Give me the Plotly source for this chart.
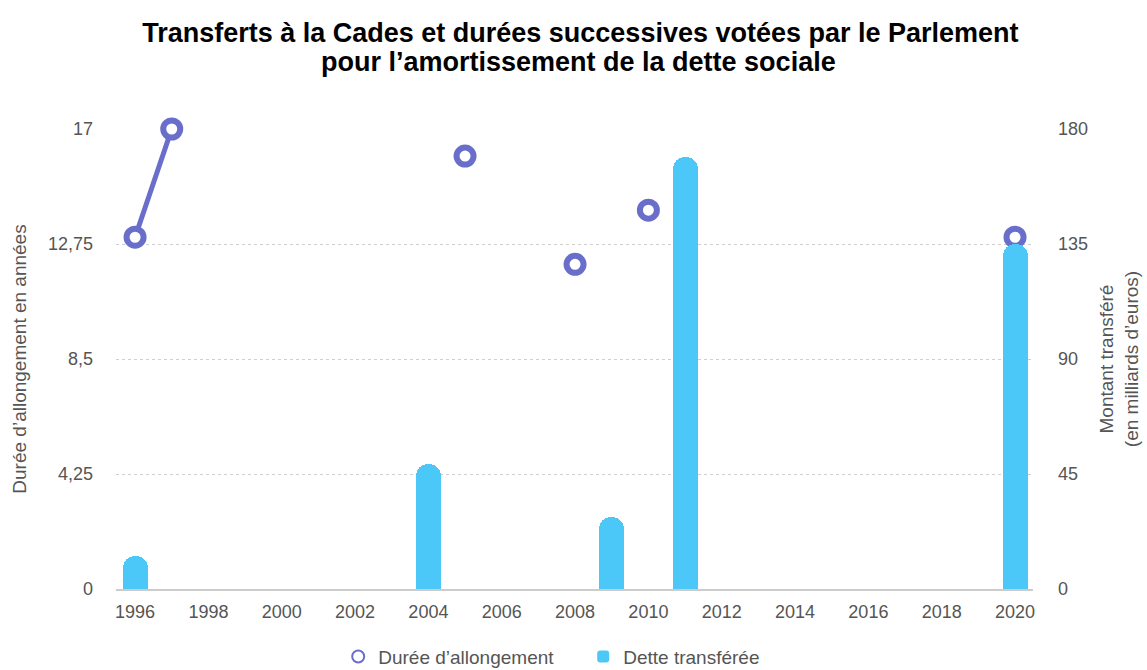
import plotly.graph_objects as go

# Data
years_bar = [1996, 2004, 2009, 2011, 2020]
dette = [13, 49, 28, 169, 135]

years_line = list(range(1996, 2021))
duree_map = {1996: 13, 1997: 17, 2005: 16, 2008: 12, 2010: 14, 2020: 13}
duree = [duree_map.get(y) for y in years_line]

left_ticks = [0, 4.25, 8.5, 12.75, 17]
left_ticktext = ["0", "4,25", "8,5", "12,75", "17"]
right_ticks = [0, 45, 90, 135, 180]
x_ticks = list(range(1996, 2021, 2))

title_line1 = "Transferts à la Cades et durées successives votées par le Parlement"
title_line2 = "pour l’amortissement de la dette sociale"

PURPLE = "#6a6ecb"
BLUE = "#4cc8f8"
GRAY = "#555555"
FONT = "Liberation Sans"

fig = go.Figure()

fig.add_trace(go.Bar(
    x=years_bar, y=dette, name="Dette transférée", yaxis="y2",
    width=0.68, marker=dict(color=BLUE, cornerradius="50%", line=dict(width=0)),
    legendrank=2,
))

fig.add_trace(go.Scatter(
    x=years_line, y=duree, mode="lines", connectgaps=False,
    line=dict(color=PURPLE, width=5), showlegend=False, cliponaxis=False,
    hoverinfo="skip",
))
fig.add_trace(go.Scatter(
    x=years_line, y=duree, mode="markers", name="Durée d’allongement",
    marker=dict(symbol="circle", size=17, color="white",
                line=dict(color=PURPLE, width=6)),
    cliponaxis=False, legendrank=1,
))

fig.update_layout(
    width=1147, height=670,
    paper_bgcolor="white", plot_bgcolor="white",
    margin=dict(l=116, r=114, t=129, b=81, autoexpand=False),
    font=dict(family=FONT, color=GRAY, size=16),
    title=dict(
        text="<b>" + title_line1 + "</b>",
        x=0.506, xanchor="center", y=1 - 33 / 670, yanchor="middle", yref="container",
        font=dict(family=FONT, size=27, color="black"),
    ),
    annotations=[dict(
        text="<b>" + title_line2 + "</b>", xref="paper", yref="paper",
        x=(578 - 116) / (1147 - 116 - 114), y=(589 - 62) / (589 - 129),
        xanchor="center", yanchor="middle", showarrow=False,
        font=dict(family=FONT, size=27, color="black"),
    )],
    xaxis=dict(
        range=[1995.48, 2020.49], tickvals=x_ticks, showgrid=False,
        showline=True, linecolor="#cccccc", linewidth=2,
        ticks="", ticklabelstandoff=5, zeroline=False,
        tickfont=dict(size=18, color=GRAY),
    ),
    yaxis=dict(
        range=[0, 17], tickvals=left_ticks, ticktext=left_ticktext,
        showgrid=True, gridcolor="#cfcfcf", griddash="dot", gridwidth=1,
        zeroline=False, ticks="", ticklabelstandoff=22,
        title=dict(text="Durée d’allongement en années", standoff=16,
                   font=dict(size=19, color=GRAY)),
        tickfont=dict(size=18, color=GRAY),
    ),
    yaxis2=dict(
        range=[0, 180], tickvals=right_ticks, overlaying="y", side="right",
        showgrid=False, zeroline=False, ticks="", ticklabelstandoff=24,
        title=dict(text="Montant transféré<br>(en milliards d’euros)", standoff=12,
                   font=dict(size=19, color=GRAY)),
        tickfont=dict(size=18, color=GRAY),
    ),
    legend=dict(
        orientation="h", x=0.5095, xanchor="center", y=0.02, yanchor="middle",
        yref="container", entrywidth=200,
        font=dict(size=19, color=GRAY), traceorder="normal",
        itemwidth=30, itemsizing="constant",
    ),
    bargap=0,
    showlegend=True,
)

fig.write_html("out.html", config={"displayModeBar": False},
               post_script="document.body.style.margin='0';")
